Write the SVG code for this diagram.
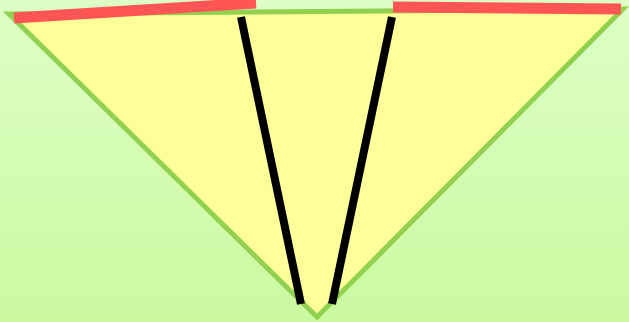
<svg xmlns="http://www.w3.org/2000/svg" width="629" height="322" viewBox="0 0 629 322">
<defs>
<linearGradient id="bg" x1="0" y1="0" x2="0" y2="1">
<stop offset="0" stop-color="#ddffc6"/>
<stop offset="1" stop-color="#cbf9a0"/>
</linearGradient>
<style>
.red{stroke:#ff5555;stroke-width:11;fill:none}
.blk{stroke:#000;stroke-width:8;fill:none}
</style>
</defs>
<rect width="629" height="322" fill="url(#bg)"/>
<polygon points="9,14 623,9 317,317" fill="#ffff99" stroke="#92d050" stroke-width="5" stroke-linejoin="miter"/>
<line class="red" x1="14" y1="18" x2="256" y2="3"/>
<line class="red" x1="393" y1="7" x2="621" y2="9"/>
<line class="blk" x1="241" y1="17" x2="301" y2="304"/>
<line class="blk" x1="392" y1="17" x2="332" y2="304"/>
</svg>
